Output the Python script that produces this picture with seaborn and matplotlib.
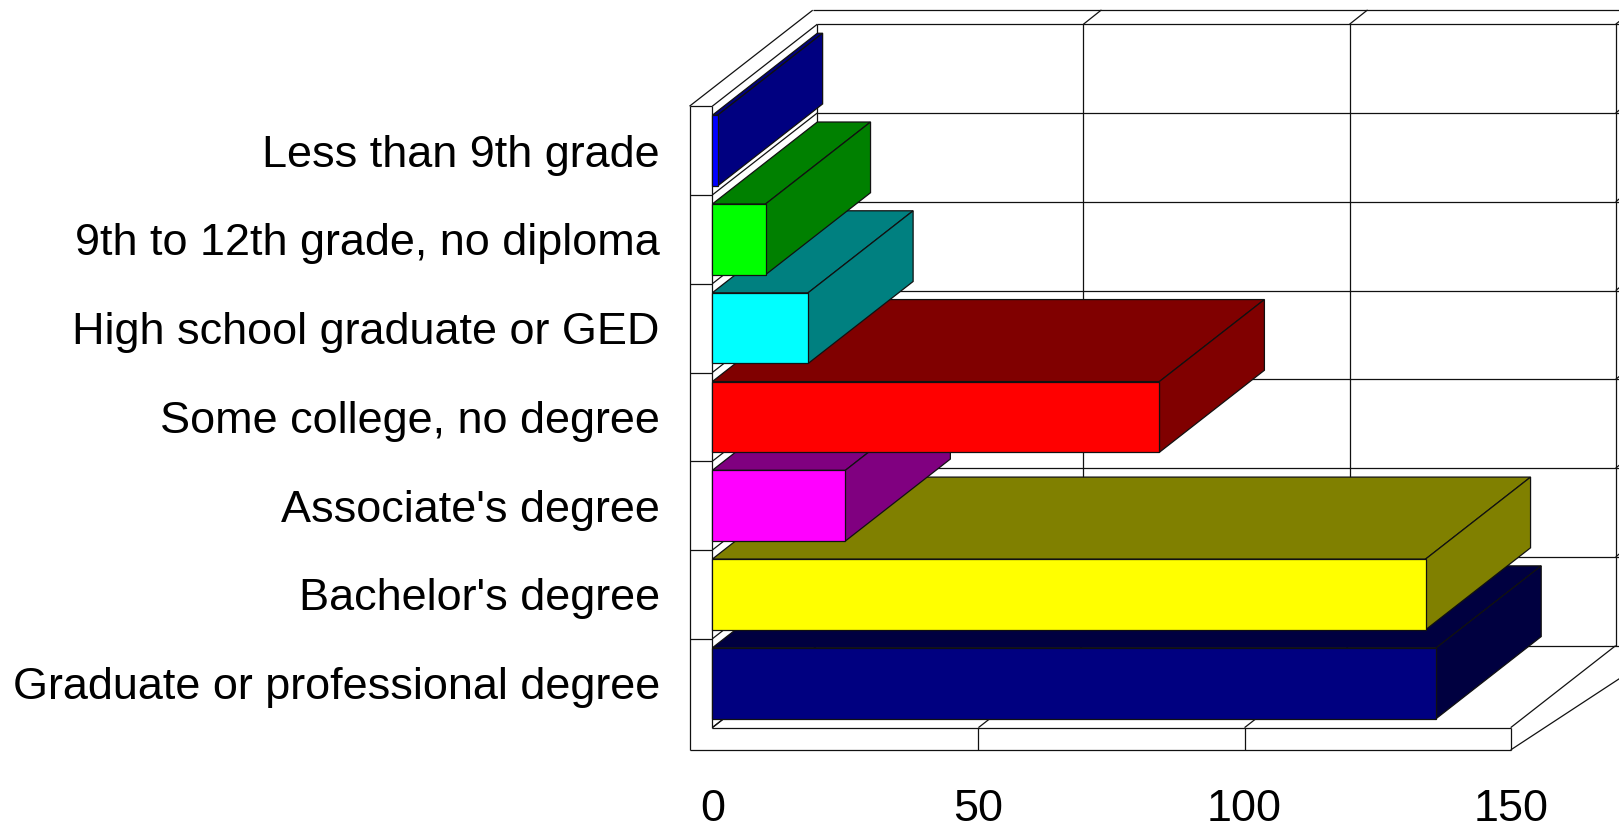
import matplotlib
matplotlib.use("Agg")
import matplotlib.pyplot as plt
import seaborn as sns
import pandas as pd

categories = ["Less than 9th grade", "9th to 12th grade, no diploma",
              "High school graduate or GED", "Some college, no degree",
              "Associate's degree", "Bachelor's degree",
              "Graduate or professional degree"]
values = [1, 10, 18, 84, 25, 134, 136]
front_colors = ["#0000FF", "#00FF00", "#00FFFF", "#FF0000", "#FF00FF", "#FFFF00", "#000080"]
side_colors = ["#000080", "#008000", "#008080", "#800000", "#800080", "#808000", "#000040"]
x_ticks = [0, 50, 100, 150]

W, H = 1619, 828
PX_X = 5.3227          # pixels per value unit
PX_Y = 88.77           # pixels per category band
X0, Y0 = 712.3, 150.6  # pixel position of value 0 / first category centre
DX, DY = 105 / PX_X, -82 / PX_Y     # depth of the box in data units
WX, WY = -22.8 / PX_X, 22.3 / PX_Y  # wall/floor thickness
BAR = 70.7 / PX_Y
TOP, BOT = -0.5, 6.5
EDGE = "#111111"
LW = 0.9

sns.set_theme(style="white")
plt.rcParams["font.family"] = ["Liberation Sans", "DejaVu Sans"]

fig = plt.figure(figsize=((W + 0.01) / 100, (H + 0.01) / 100), dpi=100, facecolor="white")
AX_BOTTOM = 750.0
ax = fig.add_axes([X0 / W, 1 - AX_BOTTOM / H, (W - X0) / W, AX_BOTTOM / H])
ax.patch.set_alpha(0)

df = pd.DataFrame({"category": categories, "value": values})
sns.barplot(data=df, y="category", x="value", hue="category", hue_order=categories,
            palette=front_colors, saturation=1, width=BAR, dodge=False, legend=False,
            edgecolor=EDGE, linewidth=LW, ax=ax)

ax.set_xlim(0, (W - X0) / PX_X)
ax.set_ylim((AX_BOTTOM - Y0) / PX_Y, -Y0 / PX_Y)


def line(xs, ys, z=1):
    ax.plot(xs, ys, color=EDGE, lw=LW, clip_on=False, zorder=z, solid_capstyle="butt")


xmax = 150
extra = 3  # value units that run past the figure edge
RIM_X = 100.4 / PX_X     # back end of the outer rim, from value 0
RIM_Y = TOP - 96 / PX_Y  # height of the outer rim at the back

# back wall and top rim
line([0 + DX, xmax + DX + extra], [TOP + DY, TOP + DY])
line([RIM_X, xmax + DX + extra], [RIM_Y, RIM_Y])
line([WX, RIM_X], [TOP, RIM_Y])
line([WX, 0], [TOP, TOP])
line([WX, WX], [TOP, BOT + WY])
line([WX, xmax], [BOT + WY, BOT + WY])
line([0, 0], [TOP, BOT])
line([0, DX], [TOP, TOP + DY])
line([DX, DX], [TOP + DY, BOT + DY])

# wall, back-wall horizontal grid lines
for k in range(1, 8):
    y = TOP + k
    if k < 7:
        line([WX, 0], [y, y])
    line([0, DX], [y, y + DY])
    line([DX, xmax + DX + extra], [y + DY, y + DY])

# value grid lines: front floor, depth, back wall, top stubs
line([0, xmax], [BOT, BOT])
for v in x_ticks:
    line([v, v + DX], [BOT, BOT + DY])
    if v > 0:
        line([v, v], [BOT, BOT + WY])
        line([v + DX, v + DX], [TOP + DY, BOT + DY])
        line([v + DX, v + DX + 18 / PX_X], [TOP + DY, TOP + DY - 14.3 / PX_Y])
for k in range(1, 7):
    y = TOP + k + DY
    line([xmax + DX, xmax + DX + 18 / PX_X], [y, y - 14.3 / PX_Y])
line([xmax, xmax + DX + 22.8 / PX_X], [BOT + WY, BOT + WY + DY - 0.02])

# bars: lower categories are painted first
for i, (val, side, bar_patch) in enumerate(zip(values, side_colors,
                                               [c[0] for c in ax.containers])):
    z = 10 + 3 * (6 - i)
    t, b = i - BAR / 2, i + BAR / 2
    ax.fill([0, val, val + DX, DX], [t, t, t + DY, t + DY],
            facecolor=side, edgecolor=EDGE, lw=LW, zorder=z, clip_on=False)
    ax.fill([val, val + DX, val + DX, val], [t, t + DY, b + DY, b],
            facecolor=side, edgecolor=EDGE, lw=LW, zorder=z, clip_on=False)
    bar_patch.set_zorder(z + 1)
    bar_patch.set_clip_on(False)

sns.despine(ax=ax, left=True, bottom=True, top=True, right=True)
ax.set_xlabel("")
ax.set_ylabel("")
ax.set_xticks(x_ticks)
ax.set_xticklabels([str(v) for v in x_ticks])
ax.tick_params(axis="x", length=0, pad=28, labelsize=32.4, colors="black")
ax.tick_params(axis="y", length=0, pad=37.8, labelsize=32.4, colors="black")

fig.savefig("out.png", dpi=100, facecolor="white")
